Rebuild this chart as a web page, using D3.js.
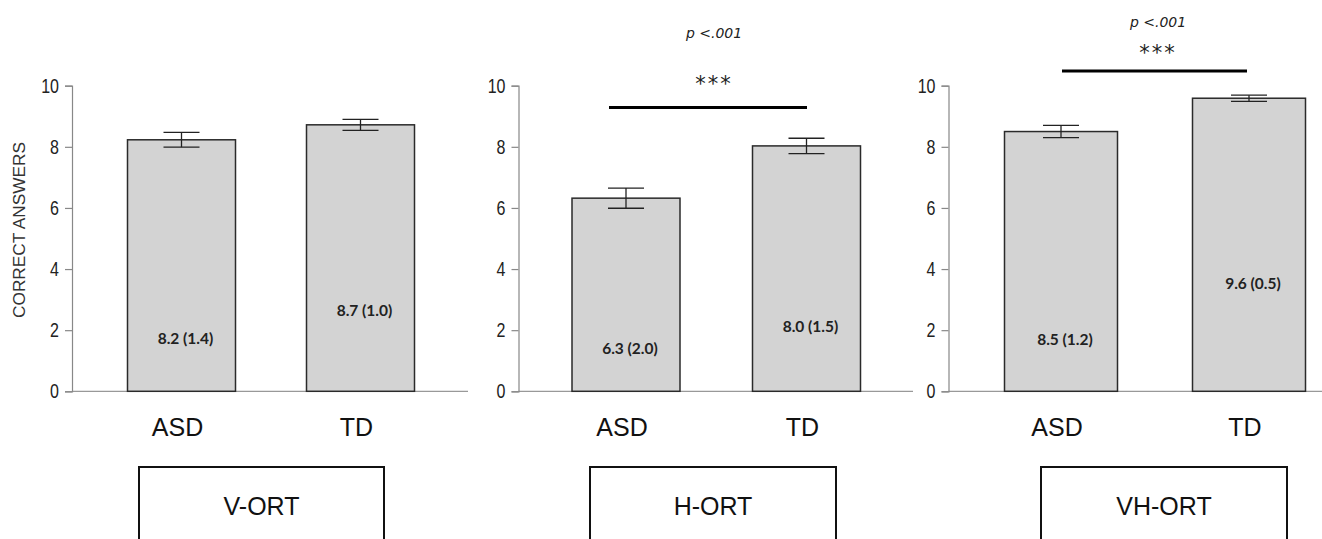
<!DOCTYPE html>
<html><head><meta charset="utf-8">
<script src="https://cdn.jsdelivr.net/npm/d3@7"></script>
<style>body{margin:0;background:#fff}svg{display:block}</style>
</head><body><svg id="c" width="1322" height="539"></svg>
<script>
// ---- data ----
const categories = ["ASD", "TD"];
const tasks = ["V-ORT", "H-ORT", "VH-ORT"];
const vOrtMeans = [8.23, 8.72];
const hOrtMeans = [6.32, 8.03];
const vhOrtMeans = [8.50, 9.59];
const vOrtErr = [0.24, 0.18];
const hOrtErr = [0.33, 0.25];
const vhOrtErr = [0.20, 0.10];
const vOrtLabels = ["8.2 (1.4)", "8.7 (1.0)"];
const hOrtLabels = ["6.3 (2.0)", "8.0 (1.5)"];
const vhOrtLabels = ["8.5 (1.2)", "9.6 (0.5)"];
const significance = [null, "p <.001", "p <.001"];
const stars = [null, "***", "***"];
const yTicks = [0, 2, 4, 6, 8, 10];
const yTitle = "CORRECT ANSWERS";

const seriesMeans = [vOrtMeans, hOrtMeans, vhOrtMeans];
const seriesErr = [vOrtErr, hOrtErr, vhOrtErr];
const seriesLabels = [vOrtLabels, hOrtLabels, vhOrtLabels];

// ---- layout ----
const layout = [
  {axisX: 72,    c0: 181.5, c1: 360.5,  bw: 108, xEnd: 468,  box: [139, 384], labelY: [1.74, 2.64]},
  {axisX: 518.5, c0: 626,   c1: 806.5,  bw: 108, xEnd: 913,  box: [590, 836], labelY: [1.41, 2.11],
   sig: {x0: 609, x1: 807, y: 107.5, starsY: 84, pY: 33, cx: 714}},
  {axisX: 948.5, c0: 1061,  c1: 1249,   bw: 113, xEnd: 1322, box: [1041, 1287], labelY: [1.68, 3.53],
   sig: {x0: 1062, x1: 1247, y: 71, starsY: 53, pY: 22, cx: 1158}}
];

const svg = d3.select("#c");
const y = d3.scaleLinear().domain([0, 10]).range([391.3, 85.7]);
const squeeze = 0.8;

tasks.forEach((task, i) => {
  const L = layout[i];
  const g = svg.append("g");
  const x = d3.scalePoint().domain(categories).range([L.c0, L.c1]);

  // x baseline
  g.append("line").attr("x1", L.axisX).attr("x2", L.xEnd)
    .attr("y1", y(0)).attr("y2", y(0)).attr("stroke", "#999").attr("stroke-width", 1.2);

  // y axis
  const ax = g.append("g").attr("transform", `translate(${L.axisX},0)`)
    .call(d3.axisLeft(y).tickValues(yTicks).tickSize(7).tickPadding(6).tickFormat(d3.format("d")));
  ax.select(".domain").attr("stroke", "#888").attr("stroke-width", 1.2);
  ax.selectAll(".tick line").attr("stroke", "#888").attr("stroke-width", 1.2);
  ax.selectAll(".tick text").attr("font-family", "'Liberation Sans', Arial, sans-serif")
    .attr("font-size", 20).attr("fill", "#222")
    .attr("x", -13 / squeeze).attr("transform", `scale(${squeeze},1)`);

  const means = seriesMeans[i], errs = seriesErr[i], labs = seriesLabels[i];

  // bars
  g.selectAll("rect.bar").data(categories).join("rect").attr("class", "bar")
    .attr("x", (d) => x(d) - L.bw / 2).attr("width", L.bw)
    .attr("y", (d, j) => y(means[j])).attr("height", (d, j) => y(0) - y(means[j]))
    .attr("fill", "#d3d3d3").attr("stroke", "#2a2a2a").attr("stroke-width", 1.5);

  // error bars
  const eb = g.selectAll("g.eb").data(categories).join("g").attr("class", "eb");
  const cap = 18;
  eb.append("line").attr("x1", d => x(d)).attr("x2", d => x(d))
    .attr("y1", (d, j) => y(means[j] + errs[j])).attr("y2", (d, j) => y(means[j] - errs[j]));
  eb.append("line").attr("x1", d => x(d) - cap).attr("x2", d => x(d) + cap)
    .attr("y1", (d, j) => y(means[j] + errs[j])).attr("y2", (d, j) => y(means[j] + errs[j]));
  eb.append("line").attr("x1", d => x(d) - cap).attr("x2", d => x(d) + cap)
    .attr("y1", (d, j) => y(means[j] - errs[j])).attr("y2", (d, j) => y(means[j] - errs[j]));
  eb.selectAll("line").attr("stroke", "#222").attr("stroke-width", 1.3);

  // value labels
  g.selectAll("text.val").data(categories).join("text").attr("class", "val")
    .attr("x", d => x(d) + 4).attr("y", (d, j) => y(L.labelY[j]))
    .attr("dy", "0.35em").attr("text-anchor", "middle")
    .attr("font-family", "Lato, 'Open Sans', sans-serif").attr("font-weight", 700)
    .attr("font-size", 15.5).attr("fill", "#222").text((d, j) => labs[j]);

  // category labels
  g.selectAll("text.cat").data(categories).join("text").attr("class", "cat")
    .attr("x", d => x(d) - 4).attr("y", 427).attr("dy", "0.35em").attr("text-anchor", "middle")
    .attr("font-family", "'Liberation Sans', Arial, sans-serif").attr("font-size", 25)
    .attr("fill", "#111").text(d => d);

  // task box
  g.append("rect").attr("x", L.box[0]).attr("y", 467).attr("width", L.box[1] - L.box[0]).attr("height", 120)
    .attr("fill", "none").attr("stroke", "#111").attr("stroke-width", 2);
  g.append("text").attr("x", (L.box[0] + L.box[1]) / 2).attr("y", 506).attr("dy", "0.35em")
    .attr("text-anchor", "middle").attr("font-family", "'Liberation Sans', Arial, sans-serif")
    .attr("font-size", 25).attr("fill", "#111").text(task);

  // significance
  if (L.sig) {
    g.append("line").attr("x1", L.sig.x0).attr("x2", L.sig.x1).attr("y1", L.sig.y).attr("y2", L.sig.y)
      .attr("stroke", "#000").attr("stroke-width", 3);
    g.append("text").attr("x", L.sig.cx).attr("y", L.sig.starsY).attr("dy", "0.35em")
      .attr("text-anchor", "middle").attr("font-family", "'DejaVu Sans', sans-serif")
      .attr("font-size", 21).attr("letter-spacing", 2).attr("fill", "#222").text(stars[i]);
    g.append("text").attr("x", L.sig.cx).attr("y", L.sig.pY).attr("dy", "0.35em")
      .attr("text-anchor", "middle").attr("font-family", "'DejaVu Sans', sans-serif")
      .attr("font-style", "italic").attr("font-weight", 300)
      .attr("font-size", 14).attr("fill", "#222").text(significance[i]);
  }
});

// y title
svg.append("text").attr("transform", "translate(19,230) rotate(-90)").attr("dy", "0.35em")
  .attr("text-anchor", "middle").attr("font-family", "'Liberation Sans', Arial, sans-serif")
  .attr("font-size", 16).attr("textLength", 176).attr("lengthAdjust", "spacingAndGlyphs")
  .attr("fill", "#333").text(yTitle);
</script></body></html>
